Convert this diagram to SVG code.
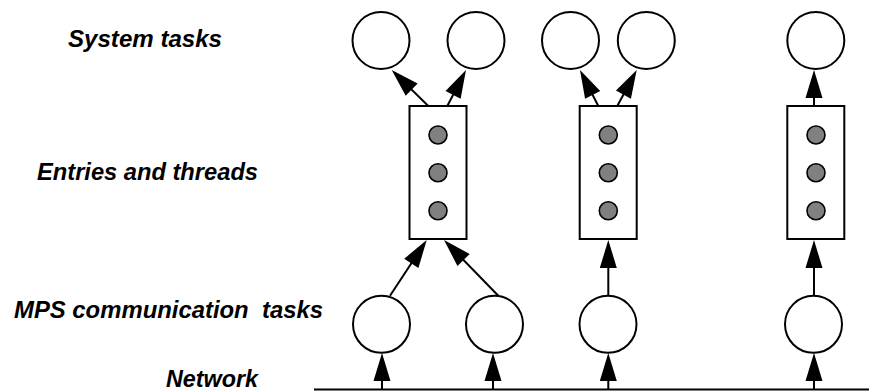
<svg xmlns="http://www.w3.org/2000/svg" width="869" height="391" viewBox="0 0 869 391">
<style>
.lbl{font-family:"Liberation Sans",Arial,sans-serif;font-weight:bold;font-style:italic;font-size:24px;fill:#000}
.task{fill:#fff;stroke:#000;stroke-width:2}
.box{fill:#fff;stroke:#000;stroke-width:2}
.dot{fill:#808080;stroke:#000;stroke-width:1.6}
.conn{stroke:#000;stroke-width:2;fill:none;marker-end:url(#ah)}
.net{stroke:#000;stroke-width:2}
</style>
<defs>
<marker id="ah" viewBox="0 -9 28 18" markerUnits="userSpaceOnUse" markerWidth="28" markerHeight="18" refX="20" refY="0" orient="auto" overflow="visible">
<path d="M0,-8.5 L28,0 L0,8.5 z" fill="#000"/>
</marker>
</defs>
<g id="labels">
<text class="lbl" x="68" y="47" textLength="154" lengthAdjust="spacingAndGlyphs">System tasks</text>
<text class="lbl" x="37" y="180" textLength="221" lengthAdjust="spacingAndGlyphs">Entries and threads</text>
<text class="lbl" x="14" y="318" xml:space="preserve" textLength="309" lengthAdjust="spacingAndGlyphs">MPS communication  tasks</text>
<text class="lbl" x="166" y="387" textLength="92" lengthAdjust="spacingAndGlyphs">Network</text>
</g>
<g id="network"><line class="net" x1="314" y1="389.5" x2="869" y2="389.5"/></g>
<g id="sys1"><circle class="task" cx="381" cy="40.5" r="28.5"/></g>
<g id="sys2"><circle class="task" cx="476" cy="40.5" r="28.5"/></g>
<g id="sys3"><circle class="task" cx="570.5" cy="40.5" r="28.5"/></g>
<g id="sys4"><circle class="task" cx="646.3" cy="40.5" r="28.5"/></g>
<g id="sys5"><circle class="task" cx="815.8" cy="40.5" r="28.5"/></g>
<g id="entry1"><rect class="box" x="409.5" y="106" width="57" height="133"/>
<circle class="dot" cx="438" cy="135" r="9"/><circle class="dot" cx="438" cy="172.7" r="9"/><circle class="dot" cx="438" cy="210.7" r="9"/></g>
<g id="entry2"><rect class="box" x="579.7" y="106" width="57" height="133"/>
<circle class="dot" cx="608.3" cy="135" r="9"/><circle class="dot" cx="608.3" cy="172.7" r="9"/><circle class="dot" cx="608.3" cy="210.7" r="9"/></g>
<g id="entry3"><rect class="box" x="787.3" y="106" width="57" height="133"/>
<circle class="dot" cx="816" cy="135" r="9"/><circle class="dot" cx="816" cy="172.7" r="9"/><circle class="dot" cx="816" cy="210.7" r="9"/></g>
<g id="mps1"><circle class="task" cx="381.5" cy="324.3" r="28.5"/></g>
<g id="mps2"><circle class="task" cx="494.5" cy="324.3" r="28.5"/></g>
<g id="mps3"><circle class="task" cx="608" cy="324.3" r="28.5"/></g>
<g id="mps4"><circle class="task" cx="813.5" cy="324.3" r="28.5"/></g>
<g id="connectors">
<line class="conn" x1="428.3" y1="106" x2="397.4" y2="75.6"/>
<line class="conn" x1="447.3" y1="106" x2="462.3" y2="77.1"/>
<line class="conn" x1="598.3" y1="106" x2="583.6" y2="77.1"/>
<line class="conn" x1="617.3" y1="106" x2="632.9" y2="77"/>
<line class="conn" x1="814" y1="106" x2="814" y2="78"/>
<line class="conn" x1="390" y1="295.7" x2="422.3" y2="246.7"/>
<line class="conn" x1="498.3" y1="295.7" x2="449.6" y2="245.7"/>
<line class="conn" x1="608.3" y1="295.5" x2="608.3" y2="248"/>
<line class="conn" x1="814" y1="295.5" x2="814" y2="248"/>
<line class="conn" x1="382" y1="389" x2="382" y2="361"/>
<line class="conn" x1="493" y1="389" x2="493" y2="361"/>
<line class="conn" x1="608.3" y1="389" x2="608.3" y2="361"/>
<line class="conn" x1="814" y1="389" x2="814" y2="361"/>
</g>
</svg>
